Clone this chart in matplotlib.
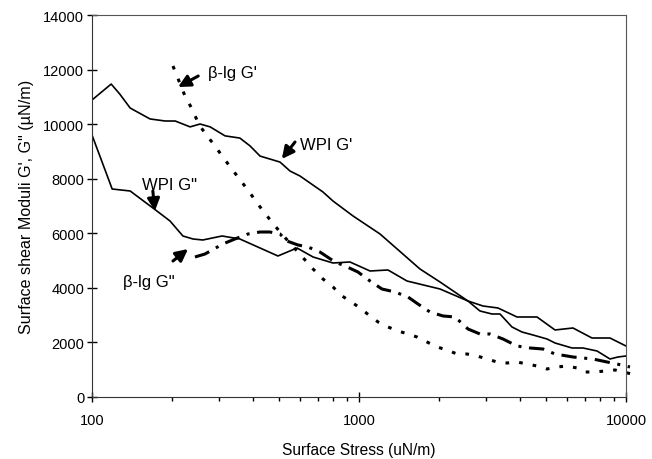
import numpy as np
import matplotlib
matplotlib.use('Agg')
import matplotlib.pyplot as plt

plt.rcParams['font.family'] = ['Liberation Sans', 'DejaVu Sans']

# WPI G' (upper solid)
wpi_g1_x = [100, 118, 127, 139, 165, 188, 205, 233, 254, 277, 315, 358, 391, 426, 506, 552, 601,
            733, 799, 950, 1199, 1692, 2011, 2560, 2914, 3316, 3906, 4642, 5423, 6331, 7459, 8711, 10000]
wpi_g1_y = [10885, 11470, 11105, 10590, 10190, 10115, 10115, 9900, 10005, 9900, 9570, 9490, 9200, 8830,
            8610, 8280, 8100, 7513, 7183, 6634, 5974, 4691, 4215, 3518, 3335, 3262, 2932, 2932, 2456,
            2529, 2162, 2162, 1869]

# WPI G'' (lower solid)
wpi_g2_x = [100, 119, 139, 175, 196, 219, 239, 260, 307, 358, 497, 586, 673, 799, 925, 1100, 1284,
            1513, 2011, 2560, 2839, 3148, 3374, 3741, 4077, 4485, 5060, 5423, 6280, 6902, 7789, 8711,
            9333, 10000]
wpi_g2_y = [9602, 7623, 7550, 6817, 6450, 5901, 5791, 5754, 5901, 5791, 5168, 5461, 5131, 4911, 4948,
            4618, 4655, 4251, 3958, 3518, 3152, 3042, 3042, 2566, 2382, 2272, 2126, 1979, 1796, 1796,
            1686, 1393, 1466, 1503]

# beta-lg G' (dotted)
blg_g1_x = [201, 223, 237, 252, 270, 289, 309, 352, 381, 437, 506, 586, 673, 733, 799, 864, 925, 1009,
            1100, 1179, 1284, 1400, 1526, 1649, 1798, 1960, 2136, 2328, 2538, 2767, 3016, 3288, 3584,
            3906, 4258, 4642, 5060, 5515, 6012, 6553, 7022, 7653, 8342, 9094, 9745, 10531]
blg_g1_y = [12131, 11032, 10555, 9969, 9566, 9199, 8796, 8063, 7623, 6817, 6047, 5351, 4691, 4325,
            4032, 3702, 3518, 3262, 2969, 2749, 2566, 2419, 2309, 2199, 2016, 1833, 1723, 1576, 1576,
            1503, 1393, 1283, 1246, 1283, 1209, 1136, 1026, 1100, 1136, 1063, 916, 916, 953, 990, 916, 843]

# beta-lg G'' (dash-dot)
blg_g2_x = [243, 265, 309, 343, 384, 426, 464, 506, 537, 591, 644, 714, 813, 887, 991, 1100, 1219,
            1364, 1526, 1663, 1845, 2064, 2289, 2560, 2839, 3094, 3462, 3906, 4369, 4888, 5423, 6331,
            6902, 7521, 8489, 9253, 10351]
blg_g2_y = [5131, 5241, 5607, 5791, 5974, 6047, 6047, 5974, 5717, 5571, 5498, 5314, 4948, 4801, 4581,
            4251, 3958, 3848, 3665, 3408, 3115, 2969, 2932, 2492, 2309, 2309, 2126, 1869, 1796, 1759,
            1576, 1466, 1429, 1393, 1283, 1209, 1100]

# labels: text, text anchor, arrow tail, arrow tip
labels = ["\u03b2-lg G'", "WPI G'", 'WPI G"', '\u03b2-lg G"']
label_xy = [(272, 11911), (601, 9272), (154, 7806), (131, 4215)]
tail_xy = [(250, 11765), (576, 9346), (169, 7550), (201, 4984)]
tip_xy = [(210, 11360), (514, 8723), (172, 6817), (229, 5424)]

fig = plt.figure(figsize=(6.52, 4.60), dpi=100)
ax = fig.add_axes([0.1411, 0.1348, 0.819, 0.8304])

ax.plot(wpi_g1_x, wpi_g1_y, color='black', lw=1.2)
ax.plot(wpi_g2_x, wpi_g2_y, color='black', lw=1.2)
ax.plot(blg_g1_x, blg_g1_y, color='black', lw=2.2, linestyle=(0, (1.2, 3.3)), clip_on=False)
ax.plot(blg_g2_x, blg_g2_y, color='black', lw=2.2, linestyle=(0, (5, 2.5, 1, 2.5)), clip_on=False)

ax.set_xscale('log')
ax.set_xlim(100, 10000)
ax.set_ylim(0, 14000)
ax.set_yticks(np.arange(0, 14001, 2000))
ax.set_xticks([100, 1000, 10000])
ax.set_xticklabels(['100', '1000', '10000'])

ax.tick_params(axis='both', which='major', direction='inout', length=7, width=1, labelsize=10.5, colors='black')
ax.tick_params(axis='x', which='minor', direction='out', length=3, width=1)
ax.tick_params(axis='y', which='major', pad=2)
ax.tick_params(axis='x', which='major', pad=8)
for s in ['left', 'bottom']:
    ax.spines[s].set_color('#333333')
for s in ['top', 'right']:
    ax.spines[s].set_color('#555555')

ax.set_xlabel('Surface Stress (uN/m)', fontsize=11.2, labelpad=11)
ax.set_ylabel('Surface shear Moduli G\', G" (\u00b5N/m)', fontsize=11.6, labelpad=7)

for txt, pos, tail, tip in zip(labels, label_xy, tail_xy, tip_xy):
    ax.text(pos[0], pos[1], txt, fontsize=12, va='center', ha='left')
    ax.annotate('', xy=tip, xytext=tail,
                arrowprops=dict(arrowstyle='-|>', lw=2.2, color='black', mutation_scale=18,
                                shrinkA=0, shrinkB=0))

fig.savefig('out.png', dpi=100)
